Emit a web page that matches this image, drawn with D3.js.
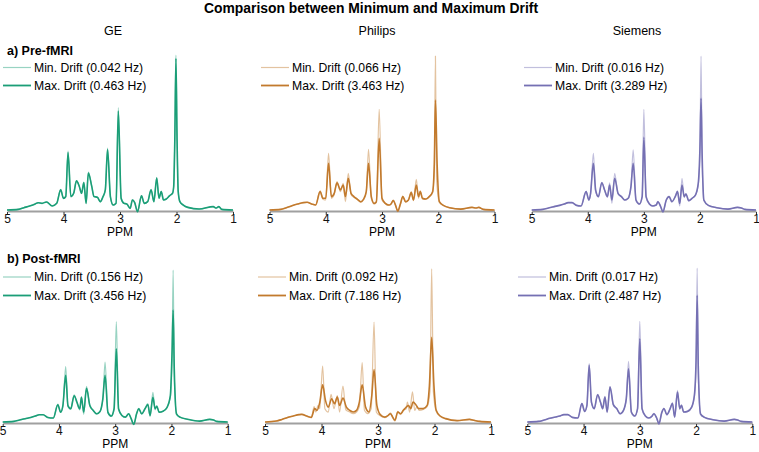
<!DOCTYPE html>
<html>
<head>
<meta charset="utf-8">
<script src="https://cdn.jsdelivr.net/npm/d3@7"></script>
<style>
  body { margin: 0; background: #fff; }
  svg { display: block; font-family: "Liberation Sans", Arial, sans-serif; }
</style>
</head>
<body>
<svg id="chart" width="759" height="452"></svg>
<script>
const ppmTicks = [5, 4, 3, 2, 1];
const vendors = ["GE", "Philips", "Siemens"];
const rowLabels = ["a) Pre-fMRI", "b) Post-fMRI"];
const minDriftHz = [["0.042", "0.066", "0.016"], ["0.156", "0.092", "0.017"]];
const maxDriftHz = [["0.463", "3.463", "3.289"], ["3.456", "7.186", "2.487"]];
const vendorColors = ["#1b9e77", "#c27a2d", "#7570b3"];

// spectra as [ppm, intensity] pairs, intensity relative to the min-drift NAA peak
const gePreMax = [[5.0,0],[4.8,0.004],[4.7,0.015],[4.6,0.026],[4.5,0.039],[4.45,0.047],[4.38,0.043],[4.3,0.052],[4.2,0.026],[4.12,0.043],[4.05,0.13],[4.0,0.075],[3.96,0.087],[3.92,0.37],[3.87,0.087],[3.82,0.108],[3.77,0.188],[3.72,0.152],[3.68,0.108],[3.64,0.177],[3.6,0.043],[3.56,0.238],[3.5,0.152],[3.46,0.087],[3.4,0.082],[3.35,0.054],[3.3,0.087],[3.26,0.13],[3.22,0.39],[3.17,0.087],[3.12,0.032],[3.07,0.043],[3.03,0.639],[2.98,0.076],[2.93,0.043],[2.88,0.039],[2.82,0.011],[2.78,0.065],[2.74,0.048],[2.69,-0.011],[2.62,0.091],[2.57,0.043],[2.51,0.054],[2.45,0.13],[2.4,0.054],[2.35,0.206],[2.31,0.076],[2.27,0.119],[2.23,0.065],[2.18,0.071],[2.12,0.093],[2.07,0.108],[2.05,0.15],[2.03,0.45],[2.01,0.978],[1.99,0.45],[1.97,0.12],[1.94,0.054],[1.88,0.032],[1.8,0.017],[1.6,0.006],[1.35,0.022],[1.3,0.013],[1.25,0.022],[1.2,0.004],[1.0,0]];
const gePreMin = [[5.0,0],[4.8,0.004],[4.7,0.015],[4.6,0.026],[4.5,0.04],[4.45,0.048],[4.38,0.043],[4.3,0.053],[4.2,0.026],[4.12,0.043],[4.05,0.133],[4.0,0.075],[3.96,0.085],[3.92,0.38],[3.87,0.085],[3.82,0.108],[3.77,0.19],[3.72,0.152],[3.68,0.106],[3.64,0.18],[3.6,0.041],[3.56,0.245],[3.5,0.152],[3.46,0.087],[3.4,0.082],[3.35,0.052],[3.3,0.087],[3.26,0.13],[3.22,0.4],[3.17,0.085],[3.12,0.03],[3.07,0.043],[3.03,0.66],[2.98,0.074],[2.93,0.043],[2.88,0.039],[2.82,0.009],[2.78,0.067],[2.74,0.048],[2.69,-0.013],[2.62,0.093],[2.57,0.041],[2.51,0.054],[2.45,0.133],[2.4,0.052],[2.35,0.21],[2.31,0.074],[2.27,0.121],[2.23,0.065],[2.18,0.071],[2.12,0.093],[2.07,0.108],[2.05,0.15],[2.03,0.46],[2.01,1.0],[1.99,0.46],[1.97,0.12],[1.94,0.054],[1.88,0.032],[1.8,0.017],[1.6,0.006],[1.35,0.022],[1.3,0.013],[1.25,0.022],[1.2,0.004],[1.0,0]];

const phPreMax = [[5.0,0],[4.8,0.004],[4.7,0.015],[4.6,0.028],[4.5,0.039],[4.4,0.048],[4.33,0.05],[4.25,0.039],[4.18,0.032],[4.1,0.119],[4.05,0.076],[4.0,0.076],[3.95,0.303],[3.9,0.087],[3.85,0.108],[3.8,0.177],[3.74,0.13],[3.69,0.162],[3.65,0.087],[3.6,0.206],[3.55,0.108],[3.5,0.087],[3.44,0.071],[3.38,0.054],[3.33,0.069],[3.28,0.119],[3.24,0.303],[3.19,0.087],[3.14,0.043],[3.1,0.054],[3.05,0.465],[3.0,0.076],[2.94,0.043],[2.88,0.032],[2.84,0.039],[2.8,0.061],[2.76,0.032],[2.72,-0.006],[2.67,0.043],[2.63,0.087],[2.58,0.054],[2.53,0.065],[2.48,0.113],[2.44,0.065],[2.39,0.162],[2.35,0.087],[2.32,0.119],[2.28,0.076],[2.22,0.071],[2.16,0.087],[2.1,0.119],[2.07,0.3],[2.05,0.714],[2.02,0.3],[1.98,0.054],[1.9,0.028],[1.8,0.015],[1.6,0.006],[1.4,0.017],[1.33,0.013],[1.28,0.017],[1.2,0.004],[1.0,0]];
const phPreMin = [[5.0,0],[4.8,0.004],[4.7,0.015],[4.6,0.028],[4.5,0.039],[4.4,0.048],[4.33,0.05],[4.25,0.039],[4.18,0.032],[4.1,0.125],[4.05,0.07],[4.0,0.065],[3.95,0.368],[3.9,0.076],[3.85,0.1],[3.8,0.184],[3.74,0.119],[3.69,0.173],[3.65,0.054],[3.6,0.238],[3.55,0.1],[3.5,0.082],[3.44,0.069],[3.38,0.05],[3.33,0.065],[3.28,0.113],[3.24,0.394],[3.19,0.076],[3.14,0.039],[3.1,0.05],[3.05,0.654],[3.0,0.065],[2.94,0.04],[2.88,0.03],[2.84,0.039],[2.8,0.065],[2.76,0.03],[2.72,-0.011],[2.67,0.04],[2.63,0.091],[2.58,0.05],[2.53,0.065],[2.48,0.119],[2.44,0.06],[2.39,0.199],[2.35,0.076],[2.32,0.125],[2.28,0.071],[2.22,0.069],[2.16,0.087],[2.1,0.113],[2.07,0.25],[2.05,1.0],[2.03,0.2],[1.98,0.05],[1.9,0.028],[1.8,0.015],[1.6,0.006],[1.4,0.017],[1.33,0.013],[1.28,0.017],[1.2,0.004],[1.0,0]];

const sePreMax = [[5.0,0],[4.8,0.004],[4.7,0.013],[4.6,0.022],[4.5,0.03],[4.42,0.039],[4.35,0.048],[4.28,0.048],[4.2,0.03],[4.12,0.026],[4.03,0.119],[3.98,0.065],[3.95,0.108],[3.9,0.303],[3.86,0.13],[3.81,0.087],[3.75,0.177],[3.7,0.13],[3.65,0.087],[3.61,0.162],[3.57,0.065],[3.52,0.206],[3.46,0.108],[3.4,0.087],[3.34,0.065],[3.28,0.076],[3.23,0.152],[3.19,0.303],[3.14,0.065],[3.08,0.039],[3.03,0.087],[3.0,0.472],[2.96,0.087],[2.9,0.039],[2.84,0.026],[2.78,0.032],[2.75,0.054],[2.7,0.022],[2.66,-0.011],[2.6,0.065],[2.55,0.087],[2.5,0.054],[2.44,0.087],[2.4,0.119],[2.36,0.043],[2.32,0.162],[2.28,0.087],[2.25,0.104],[2.2,0.061],[2.14,0.076],[2.08,0.097],[2.03,0.173],[2.0,0.4],[1.98,0.725],[1.96,0.35],[1.93,0.065],[1.85,0.03],[1.7,0.015],[1.5,0.006],[1.33,0.017],[1.26,0.013],[1.2,0.004],[1.0,0]];
const sePreMin = [[5.0,0],[4.8,0.004],[4.7,0.013],[4.6,0.022],[4.5,0.03],[4.42,0.039],[4.35,0.048],[4.28,0.048],[4.2,0.03],[4.12,0.026],[4.03,0.121],[3.98,0.063],[3.95,0.104],[3.9,0.368],[3.86,0.12],[3.81,0.085],[3.75,0.18],[3.7,0.128],[3.65,0.082],[3.61,0.177],[3.57,0.043],[3.52,0.238],[3.46,0.104],[3.4,0.087],[3.34,0.063],[3.28,0.074],[3.23,0.15],[3.19,0.39],[3.14,0.06],[3.08,0.037],[3.03,0.085],[3.0,0.654],[2.96,0.08],[2.9,0.037],[2.84,0.026],[2.78,0.032],[2.75,0.056],[2.7,0.02],[2.66,-0.015],[2.6,0.065],[2.55,0.089],[2.5,0.052],[2.44,0.087],[2.4,0.125],[2.36,0.026],[2.32,0.206],[2.28,0.08],[2.25,0.106],[2.2,0.059],[2.14,0.076],[2.08,0.097],[2.03,0.16],[2.0,0.35],[1.98,1.0],[1.96,0.3],[1.93,0.06],[1.85,0.03],[1.7,0.015],[1.5,0.006],[1.33,0.017],[1.26,0.013],[1.2,0.004],[1.0,0]];

const gePostMax = [[5.0,0],[4.8,0.004],[4.7,0.013],[4.6,0.022],[4.5,0.03],[4.42,0.039],[4.35,0.048],[4.28,0.048],[4.2,0.03],[4.1,0.026],[4.02,0.113],[3.97,0.065],[3.93,0.108],[3.88,0.307],[3.84,0.108],[3.79,0.087],[3.73,0.173],[3.68,0.13],[3.63,0.087],[3.6,0.162],[3.56,0.065],[3.51,0.221],[3.45,0.108],[3.39,0.076],[3.33,0.054],[3.27,0.069],[3.22,0.152],[3.18,0.307],[3.13,0.065],[3.07,0.039],[3.02,0.087],[2.98,0.481],[2.94,0.087],[2.88,0.043],[2.82,0.032],[2.76,0.054],[2.72,0.026],[2.67,-0.015],[2.62,0.054],[2.58,0.087],[2.53,0.054],[2.47,0.087],[2.42,0.115],[2.38,0.043],[2.33,0.162],[2.29,0.087],[2.26,0.104],[2.22,0.065],[2.15,0.071],[2.08,0.095],[2.02,0.173],[1.99,0.45],[1.97,0.736],[1.95,0.35],[1.91,0.054],[1.85,0.032],[1.7,0.017],[1.5,0.006],[1.32,0.017],[1.25,0.013],[1.2,0.004],[1.0,0]];
const gePostMin = [[5.0,0],[4.8,0.004],[4.7,0.013],[4.6,0.022],[4.5,0.03],[4.42,0.039],[4.35,0.048],[4.28,0.048],[4.2,0.03],[4.1,0.026],[4.02,0.117],[3.97,0.063],[3.93,0.104],[3.88,0.364],[3.84,0.1],[3.79,0.085],[3.73,0.178],[3.68,0.126],[3.63,0.08],[3.6,0.167],[3.56,0.05],[3.51,0.234],[3.45,0.104],[3.39,0.076],[3.33,0.052],[3.27,0.069],[3.22,0.148],[3.18,0.394],[3.13,0.06],[3.07,0.037],[3.02,0.085],[2.98,0.66],[2.94,0.08],[2.88,0.041],[2.82,0.03],[2.76,0.056],[2.72,0.024],[2.67,-0.018],[2.62,0.054],[2.58,0.089],[2.53,0.052],[2.47,0.089],[2.42,0.121],[2.38,0.035],[2.33,0.195],[2.29,0.08],[2.26,0.108],[2.22,0.063],[2.15,0.071],[2.08,0.095],[2.02,0.16],[1.99,0.4],[1.97,1.0],[1.95,0.3],[1.91,0.05],[1.85,0.032],[1.7,0.017],[1.5,0.006],[1.32,0.017],[1.25,0.013],[1.2,0.004],[1.0,0]];

const phPostMax = [[5.0,0],[4.8,0.006],[4.7,0.017],[4.6,0.03],[4.5,0.039],[4.4,0.048],[4.35,0.05],[4.25,0.037],[4.18,0.03],[4.12,0.087],[4.08,0.076],[4.03,0.13],[3.98,0.242],[3.93,0.141],[3.88,0.097],[3.82,0.152],[3.77,0.119],[3.72,0.162],[3.68,0.108],[3.62,0.156],[3.56,0.097],[3.5,0.076],[3.44,0.065],[3.38,0.076],[3.33,0.13],[3.28,0.242],[3.22,0.097],[3.16,0.065],[3.11,0.173],[3.07,0.342],[3.02,0.108],[2.96,0.048],[2.88,0.032],[2.82,0.043],[2.78,0.054],[2.74,0.032],[2.7,0.011],[2.65,0.065],[2.6,0.054],[2.55,0.076],[2.5,0.097],[2.46,0.108],[2.42,0.087],[2.38,0.13],[2.33,0.113],[2.28,0.087],[2.2,0.087],[2.13,0.108],[2.09,0.238],[2.05,0.552],[2.01,0.238],[1.97,0.076],[1.9,0.039],[1.8,0.022],[1.6,0.009],[1.38,0.017],[1.3,0.011],[1.2,0.004],[1.0,0]];
const phPostMin = [[5.0,0],[4.8,0.006],[4.7,0.017],[4.6,0.03],[4.5,0.039],[4.4,0.048],[4.35,0.05],[4.25,0.037],[4.18,0.03],[4.13,0.1],[4.1,0.065],[4.06,0.108],[4.03,0.087],[3.98,0.365],[3.94,0.087],[3.88,0.065],[3.83,0.18],[3.78,0.087],[3.72,0.173],[3.68,0.065],[3.62,0.234],[3.57,0.08],[3.5,0.065],[3.44,0.054],[3.38,0.065],[3.33,0.1],[3.28,0.387],[3.24,0.076],[3.18,0.054],[3.12,0.087],[3.07,0.652],[3.03,0.065],[2.96,0.04],[2.88,0.028],[2.82,0.043],[2.78,0.06],[2.74,0.028],[2.7,0.006],[2.65,0.07],[2.6,0.048],[2.55,0.08],[2.5,0.087],[2.48,0.13],[2.44,0.065],[2.39,0.196],[2.35,0.076],[2.31,0.1],[2.27,0.076],[2.2,0.082],[2.13,0.1],[2.08,0.2],[2.05,1.0],[2.02,0.2],[1.97,0.07],[1.9,0.037],[1.8,0.02],[1.6,0.009],[1.38,0.017],[1.3,0.011],[1.2,0.004],[1.0,0]];

const sePostMax = [[5.0,0],[4.8,0.004],[4.7,0.013],[4.6,0.024],[4.5,0.032],[4.42,0.039],[4.35,0.048],[4.28,0.048],[4.2,0.03],[4.1,0.026],[4.03,0.119],[3.98,0.069],[3.94,0.108],[3.9,0.368],[3.86,0.13],[3.81,0.087],[3.75,0.177],[3.7,0.13],[3.66,0.087],[3.62,0.162],[3.58,0.065],[3.53,0.227],[3.47,0.113],[3.41,0.087],[3.35,0.054],[3.29,0.076],[3.24,0.152],[3.2,0.346],[3.15,0.065],[3.09,0.039],[3.04,0.087],[3.0,0.541],[2.96,0.087],[2.9,0.039],[2.84,0.026],[2.78,0.039],[2.75,0.054],[2.7,0.026],[2.66,-0.011],[2.61,0.061],[2.57,0.087],[2.52,0.048],[2.46,0.087],[2.42,0.121],[2.38,0.032],[2.33,0.195],[2.29,0.087],[2.26,0.108],[2.22,0.065],[2.15,0.069],[2.08,0.095],[2.03,0.173],[2.0,0.4],[1.98,0.823],[1.96,0.35],[1.92,0.052],[1.85,0.03],[1.7,0.015],[1.5,0.006],[1.32,0.017],[1.26,0.013],[1.2,0.004],[1.0,0]];
const sePostMin = [[5.0,0],[4.8,0.004],[4.7,0.013],[4.6,0.024],[4.5,0.032],[4.42,0.039],[4.35,0.048],[4.28,0.048],[4.2,0.03],[4.1,0.026],[4.03,0.121],[3.98,0.067],[3.94,0.106],[3.9,0.379],[3.86,0.126],[3.81,0.085],[3.75,0.18],[3.7,0.128],[3.66,0.085],[3.62,0.167],[3.58,0.06],[3.53,0.232],[3.47,0.11],[3.41,0.087],[3.35,0.052],[3.29,0.076],[3.24,0.15],[3.2,0.394],[3.15,0.06],[3.09,0.037],[3.04,0.085],[3.0,0.654],[2.96,0.082],[2.9,0.037],[2.84,0.026],[2.78,0.039],[2.75,0.056],[2.7,0.024],[2.66,-0.015],[2.61,0.061],[2.57,0.089],[2.52,0.046],[2.46,0.087],[2.42,0.125],[2.38,0.028],[2.33,0.206],[2.29,0.082],[2.26,0.11],[2.22,0.063],[2.15,0.069],[2.08,0.095],[2.03,0.16],[2.0,0.35],[1.98,1.0],[1.96,0.3],[1.92,0.05],[1.85,0.03],[1.7,0.015],[1.5,0.006],[1.32,0.017],[1.26,0.013],[1.2,0.004],[1.0,0]];

const spectra = [
  [[gePreMin, gePreMax], [phPreMin, phPreMax], [sePreMin, sePreMax]],
  [[gePostMin, gePostMax], [phPostMin, phPostMax], [sePostMin, sePostMax]]
];

// panel geometry: x of ppm 5 and ppm 1, baseline and top of the plot, legend line x
const panels = [
  [{x0: 7, x1: 233, base: 210, top: 55, lx: 3},
   {x0: 269.5, x1: 494.5, base: 210, top: 56, lx: 261},
   {x0: 531.7, x1: 756, base: 210, top: 56, lx: 524}],
  [{x0: 2.7, x1: 227.7, base: 422, top: 270, lx: 3},
   {x0: 265, x1: 491, base: 422, top: 268.7, lx: 258},
   {x0: 527.3, x1: 752.3, base: 422, top: 268, lx: 518}]
];
const legendY = [[67.5, 85.5], [277, 295.5]];
const headerX = [113, 377, 637];

const svg = d3.select("#chart");

svg.append("text")
  .attr("x", 371).attr("y", 13)
  .attr("text-anchor", "middle")
  .style("font-size", "13.9px").style("font-weight", "bold")
  .text("Comparison between Minimum and Maximum Drift");

vendors.forEach(function(v, i) {
  svg.append("text")
    .attr("x", headerX[i]).attr("y", 34.5)
    .attr("text-anchor", "middle")
    .style("font-size", "12.5px")
    .text(v);
});

rowLabels.forEach(function(lbl, r) {
  svg.append("text")
    .attr("x", 7).attr("y", r === 0 ? 54.5 : 262.5)
    .style("font-size", "12.5px").style("font-weight", "bold")
    .text(lbl);
});

for (let r = 0; r < 2; ++r) {
  for (let c = 0; c < 3; ++c) {
    const pan = panels[r][c];
    const color = vendorColors[c];
    const x = d3.scaleLinear().domain([5, 1]).range([pan.x0, pan.x1]);
    const y = d3.scaleLinear().domain([0, 1]).range([pan.base, pan.top]);
    const g = svg.append("g");

    // axis
    const axis = d3.axisBottom(x).tickValues(ppmTicks).tickSize(3).tickSizeOuter(0).tickFormat(d3.format("d"));
    const ax = g.append("g").attr("transform", "translate(0," + (pan.base + 1) + ")").call(axis);
    ax.select(".domain").attr("stroke", "#a0a0a0").attr("stroke-width", 2);
    ax.selectAll(".tick line").attr("stroke", "#333").attr("transform", "translate(0,1)");
    ax.selectAll(".tick text").attr("y", 11.5).attr("dy", null).attr("fill", "#111")
      .style("font-size", "12px").style("font-family", "Liberation Sans, Arial, sans-serif");

    g.append("text")
      .attr("x", (pan.x0 + pan.x1) / 2).attr("y", pan.base + 26)
      .attr("text-anchor", "middle")
      .style("font-size", "12px")
      .text("PPM");

    const line = d3.line()
      .x(d => x(d[0]))
      .y(d => y(d[1]))
      .curve(d3.curveMonotoneX);

    // min drift underneath, lighter and thin
    g.append("path").datum(spectra[r][c][0])
      .attr("d", line).attr("fill", "none")
      .attr("stroke", color).attr("stroke-opacity", 0.45).attr("stroke-width", 1.2)
      .attr("stroke-linejoin", "round");
    g.append("path").datum(spectra[r][c][1])
      .attr("d", line).attr("fill", "none")
      .attr("stroke", color).attr("stroke-width", 1.6)
      .attr("stroke-linejoin", "round");

    // legend
    const items = [
      {label: "Min. Drift (" + minDriftHz[r][c] + " Hz)", op: 0.45, w: 1.2},
      {label: "Max. Drift (" + maxDriftHz[r][c] + " Hz)", op: 1, w: 1.8}
    ];
    items.forEach(function(it, k) {
      const ly = legendY[r][k];
      g.append("line")
        .attr("x1", pan.lx).attr("x2", pan.lx + 28)
        .attr("y1", ly).attr("y2", ly)
        .attr("stroke", color).attr("stroke-opacity", it.op).attr("stroke-width", it.w);
      g.append("text")
        .attr("x", pan.lx + 31).attr("y", ly + 4.3)
        .style("font-size", "12.2px")
        .text(it.label);
    });
  }
}
</script>
</body>
</html>
